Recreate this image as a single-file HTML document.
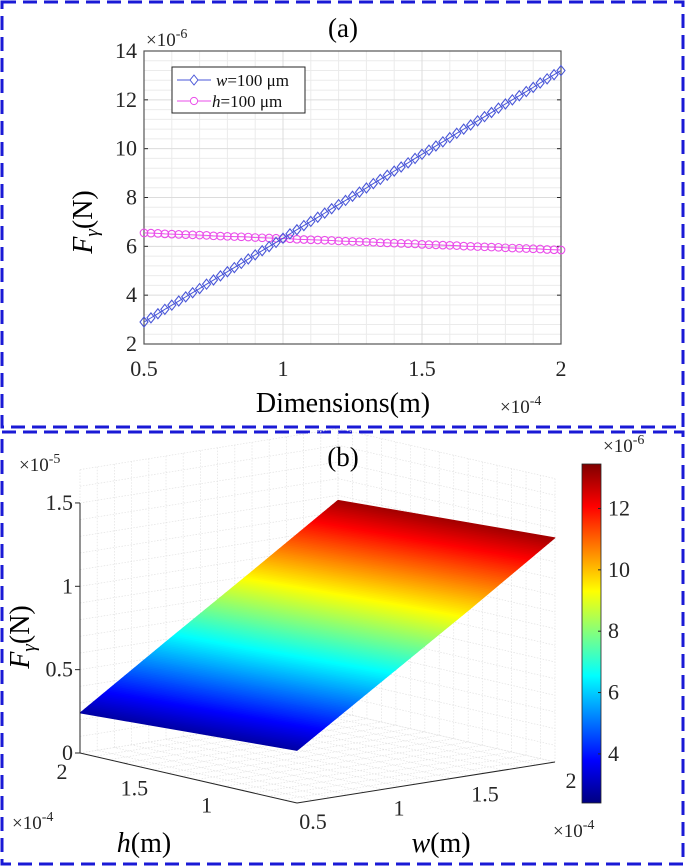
<!DOCTYPE html>
<html><head><meta charset="utf-8"><style>
html,body{margin:0;padding:0;background:#fff;}
svg{display:block;}
svg text{font-family:"Liberation Serif","Times New Roman",serif;}
</style></head><body>
<svg id="fig" width="685" height="866" viewBox="0 0 685 866" xmlns="http://www.w3.org/2000/svg" font-family="Liberation Serif, serif">
<rect x="2" y="2" width="681" height="425" fill="none" stroke="#1a1ad6" stroke-width="3" stroke-dasharray="14,7"/>
<rect x="2" y="432" width="681" height="432" fill="none" stroke="#1a1ad6" stroke-width="3" stroke-dasharray="14,7"/>
<g id="pa"></g>
<g id="pb"></g>
</svg>
<script>
// ===== Panel (a) data =====
const xTicksA = [0.5, 1, 1.5, 2];
const xTickLabelsA = ["0.5", "1", "1.5", "2"];
const yTicksA = [2, 4, 6, 8, 10, 12, 14];
const yTickLabelsA = ["2", "4", "6", "8", "10", "12", "14"];
const seriesW = [2.90,3.07,3.24,3.42,3.59,3.76,3.93,4.10,4.27,4.45,4.62,4.79,4.96,5.13,5.30,5.48,5.65,5.82,5.99,6.16,6.33,6.51,6.68,6.85,7.02,7.19,7.36,7.54,7.71,7.88,8.05,8.22,8.39,8.57,8.74,8.91,9.08,9.25,9.42,9.60,9.77,9.94,10.11,10.28,10.45,10.63,10.80,10.97,11.14,11.31,11.48,11.66,11.83,12.00,12.17,12.34,12.51,12.69,12.86,13.03,13.20];
const seriesH = [6.55,6.54,6.53,6.51,6.50,6.49,6.48,6.47,6.46,6.45,6.43,6.42,6.41,6.40,6.39,6.38,6.36,6.35,6.34,6.33,6.32,6.31,6.29,6.28,6.27,6.26,6.25,6.24,6.22,6.21,6.20,6.19,6.18,6.17,6.15,6.14,6.13,6.12,6.11,6.10,6.08,6.07,6.06,6.05,6.04,6.03,6.01,6.00,5.99,5.98,5.97,5.96,5.94,5.93,5.92,5.91,5.90,5.89,5.87,5.86,5.85];
const xMinA = 0.5, xMaxA = 2;

// ===== Panel (b) data =====
const wVals = [0.5, 1, 1.5, 2];
const hVals = [0.5, 1, 1.5, 2];
const zRowH05 = [3.15, 6.55, 9.95, 13.45];
const zRowH10 = [2.90, 6.30, 9.75, 13.20];
const zRowH15 = [2.65, 6.05, 9.50, 12.95];
const zRowH20 = [2.40, 5.85, 9.25, 12.70];
const zTicksB = [0, 0.5, 1, 1.5];
const zTickLabelsB = ["0", "0.5", "1", "1.5"];
const hTicksB = [1, 1.5, 2];
const hTickLabelsB = ["1", "1.5", "2"];
const wTicksB = [0.5, 1, 1.5, 2];
const wTickLabelsB = ["0.5", "1", "1.5", "2"];
const cbTicks = [4, 6, 8, 10, 12];
const cbTickLabels = ["4", "6", "8", "10", "12"];

const NS = "http://www.w3.org/2000/svg";
const FF = "Liberation Serif, serif";
function mk(parent, tag, attrs, txt){
  const e = document.createElementNS(NS, tag);
  for (const k in attrs) e.setAttribute(k, attrs[k]);
  if (tag === "text") e.setAttribute("font-family", FF);
  if (txt !== undefined) e.textContent = txt;
  parent.appendChild(e);
  return e;
}
const pa = document.getElementById("pa");
const pb = document.getElementById("pb");

const AL = 144, AR = 561, AT = 51, AB = 344;
const sx = v => AL + (v - xMinA) / (xMaxA - xMinA) * (AR - AL);
const sy = v => AB - (v - 2) / 12 * (AB - AT);

let e;
e = mk(pa, "rect", {x:AL, y:AT, width:AR-AL, height:AB-AT, fill:"#fff"});


for (let v = 0.6; v < 2; v += 0.1) {
  if (Math.abs(v*2 - Math.round(v*2)) < 1e-6) continue;
  e = mk(pa, "line", {x1:sx(v), x2:sx(v), y1:AT, y2:AB, stroke:"#ebebeb", "stroke-width":1});
  
  
}
for (let v = 2.4; v < 14; v += 0.4) {
  if (Math.abs(v/2 - Math.round(v/2)) < 1e-6) continue;
  e = mk(pa, "line", {x1:AL, x2:AR, y1:sy(v), y2:sy(v), stroke:"#ebebeb", "stroke-width":1});
  
  
}
xTicksA.forEach((v, i) => {
  e = mk(pa, "line", {x1:sx(v), x2:sx(v), y1:AT, y2:AB, stroke:"#dcdcdc", "stroke-width":1});
  
  
  e = mk(pa, "text", {x:sx(v), y:376, "font-size":22, fill:"#262626", "text-anchor":"middle"}, xTickLabelsA[i]);
  
  
});
yTicksA.forEach((v, i) => {
  e = mk(pa, "line", {x1:AL, x2:AR, y1:sy(v), y2:sy(v), stroke:"#dcdcdc", "stroke-width":1});
  
  
  e = mk(pa, "line", {x1:AL, x2:AL+4, y1:sy(v), y2:sy(v), stroke:"#262626", "stroke-width":1});
  
  
  e = mk(pa, "line", {x1:AR-4, x2:AR, y1:sy(v), y2:sy(v), stroke:"#262626", "stroke-width":1});
  
  
  e = mk(pa, "text", {x:137, y:sy(v)+7, "font-size":22, fill:"#262626", "text-anchor":"end"}, yTickLabelsA[i]);
  
  
});
e = mk(pa, "rect", {x:AL, y:AT, width:AR-AL, height:AB-AT, fill:"none", stroke:"#555", "stroke-width":1.2});



function seriesX(i, n){ return xMinA + i * (xMaxA - xMinA) / (n - 1); }
let d = seriesH.map((v, i) => (i ? "L" : "M") + sx(seriesX(i, seriesH.length)).toFixed(2) + "," + sy(v).toFixed(2)).join("");
e = mk(pa, "path", {d:d, fill:"none", stroke:"#ea4dea", "stroke-width":1});


seriesH.forEach((v, i) => {
  e = mk(pa, "circle", {cx:sx(seriesX(i, seriesH.length)), cy:sy(v), r:3.8, fill:"none", stroke:"#ea4dea", "stroke-width":1.1});
  
  
});
d = seriesW.map((v, i) => (i ? "L" : "M") + sx(seriesX(i, seriesW.length)).toFixed(2) + "," + sy(v).toFixed(2)).join("");
e = mk(pa, "path", {d:d, fill:"none", stroke:"#4a57d8", "stroke-width":1});


seriesW.forEach((v, i) => {
  const cx = sx(seriesX(i, seriesW.length)), cy = sy(v);
  e = mk(pa, "path", {d:`M${cx},${cy-5}L${cx+4},${cy}L${cx},${cy+5}L${cx-4},${cy}Z`, fill:"none", stroke:"#4a57d8", "stroke-width":1.1});
  
  
});

const lg = mk(pa, "g", {});


mk(lg, "rect", {x:172, y:67, width:133, height:46, fill:"#fff", stroke:"#262626", "stroke-width":1});
e = mk(lg, "g", {});


mk(e, "line", {x1:177, x2:211, y1:80, y2:80, stroke:"#4a57d8", "stroke-width":1});
mk(e, "path", {d:"M194,75L198,80L194,85L190,80Z", fill:"#fff", stroke:"#4a57d8", "stroke-width":1});
const t1 = mk(e, "text", {x:216, y:86, "font-size":17, fill:"#111"});
mk(t1, "tspan", {"font-style":"italic"}, "w");
mk(t1, "tspan", {}, "=100 μm");
e = mk(lg, "g", {});


mk(e, "line", {x1:177, x2:211, y1:101, y2:101, stroke:"#ea4dea", "stroke-width":1});
mk(e, "circle", {cx:194, cy:101, r:3.6, fill:"#fff", stroke:"#ea4dea", "stroke-width":1});
const t2 = mk(e, "text", {x:212, y:107, "font-size":17, fill:"#111"});
mk(t2, "tspan", {"font-style":"italic"}, "h");
mk(t2, "tspan", {}, "=100 μm");

e = mk(pa, "text", {x:343, y:37, "font-size":27, fill:"#000", "text-anchor":"middle"}, "(a)");


e = mk(pa, "text", {x:146, y:46, "font-size":19, fill:"#262626"});
e.innerHTML = '×10<tspan dy="-8" font-size="14">-6</tspan>';


e = mk(pa, "text", {x:343, y:412, "font-size":28, fill:"#000", "text-anchor":"middle"}, "Dimensions(m)");


e = mk(pa, "text", {x:500, y:413, "font-size":19, fill:"#262626"});
e.innerHTML = '×10<tspan dy="-8" font-size="14">-4</tspan>';


e = mk(pa, "text", {x:0, y:0, "font-size":28, fill:"#000", "text-anchor":"middle", transform:"translate(92,222) rotate(-90)"});
e.innerHTML = '<tspan font-style="italic">F</tspan><tspan font-style="italic" font-size="19" dy="6">γ</tspan><tspan dy="-6">(N)</tspan>';



// ---- Panel B 3D ----
const F0 = [297, 803], WV = [555-297, 762-803], HV = [80-297, 753-803], ZS = 16.67;
function P(w, h, z){
  const a = (w - 0.5) / 1.5, b = (h - 0.5) / 1.5;
  return [F0[0] + a*WV[0] + b*HV[0], F0[1] + a*WV[1] + b*HV[1] - z*ZS];
}
const zTop = 17;
const gridG = mk(pb, "g", {stroke:"#e2e2e2", "stroke-width":0.7, "stroke-dasharray":"1.5,1.5", fill:"none"});


function ln(g, p, q){ mk(g, "line", {x1:p[0], y1:p[1], x2:q[0], y2:q[1]}); }
for (let z = 0; z <= zTop + 1e-6; z += 1) {
  ln(gridG, P(0.5, 2, z), P(2, 2, z));
  ln(gridG, P(2, 2, z), P(2, 0.5, z));
}
for (let v = 0.5; v <= 2 + 1e-6; v += 0.1) {
  ln(gridG, P(v, 2, 0), P(v, 2, zTop));
  ln(gridG, P(2, v, 0), P(2, v, zTop));
  ln(gridG, P(v, 0.5, 0), P(v, 2, 0));
  ln(gridG, P(0.5, v, 0), P(2, v, 0));
}

const zGrid = [zRowH05, zRowH10, zRowH15, zRowH20];
const zMin = 2.4, zMax = 13.45;
function jet(t){
  t = Math.max(0, Math.min(1, t));
  const r = Math.max(0, Math.min(1, 1.5 - Math.abs(4*t - 3)));
  const g = Math.max(0, Math.min(1, 1.5 - Math.abs(4*t - 2)));
  const b = Math.max(0, Math.min(1, 1.5 - Math.abs(4*t - 1)));
  return `rgb(${Math.round(r*255)},${Math.round(g*255)},${Math.round(b*255)})`;
}
function zAt(w, h){
  let i = 0; while (i < hVals.length - 2 && h > hVals[i+1]) i++;
  let j = 0; while (j < wVals.length - 2 && w > wVals[j+1]) j++;
  const u = (w - wVals[j]) / (wVals[j+1] - wVals[j]);
  const v = (h - hVals[i]) / (hVals[i+1] - hVals[i]);
  return zGrid[i][j]*(1-u)*(1-v) + zGrid[i][j+1]*u*(1-v) + zGrid[i+1][j]*(1-u)*v + zGrid[i+1][j+1]*u*v;
}
const surf = mk(pb, "g", {});


const NW = 150;
for (let b = 0; b < NW; b++) {
  const w0 = 0.5 + b*1.5/NW, w1 = 0.5 + (b+1)*1.5/NW;
  const pts = [];
  for (let k = 0; k <= 6; k++) { const h = 2 - k*0.25; pts.push(P(w0, h, zAt(w0, h))); }
  for (let k = 6; k >= 0; k--) { const h = 2 - k*0.25; pts.push(P(w1, h, zAt(w1, h))); }
  const zc = zAt((w0+w1)/2, 1.25);
  const c = jet((zc - zMin) / (zMax - zMin));
  e = mk(surf, "polygon", {points: pts.map(p => p[0].toFixed(2)+","+p[1].toFixed(2)).join(" "), fill:c, stroke:c, "stroke-width":0.8, "stroke-linejoin":"round"});
  
  
}

const ax = mk(pb, "g", {stroke:"#262626", "stroke-width":1});


ln(ax, P(0.5, 2, 0), P(0.5, 2, 15));
ln(ax, P(0.5, 2, 0), P(0.5, 0.5, 0));
ln(ax, P(0.5, 0.5, 0), P(2, 0.5, 0));
zTicksB.forEach((v, i) => {
  const p = P(0.5, 2, v*10);
  e = mk(pb, "line", {x1:p[0]-5, x2:p[0], y1:p[1], y2:p[1], stroke:"#262626"});
  
  
  e = mk(pb, "text", {x:p[0]-7, y:p[1]+7, "font-size":22, fill:"#262626", "text-anchor":"end"}, zTickLabelsB[i]);
  
  
});
hTicksB.forEach((v, i) => {
  const p = P(0.5, v, 0);
  e = mk(pb, "text", {x:p[0]-18, y:p[1]+26, "font-size":22, fill:"#262626", "text-anchor":"middle"}, hTickLabelsB[i]);
  
  
});
wTicksB.forEach((v, i) => {
  const p = P(v, 0.5, 0);
  e = mk(pb, "text", {x:p[0]+16, y:p[1]+26, "font-size":22, fill:"#262626", "text-anchor":"middle"}, wTickLabelsB[i]);
  
  
});

const CBX = 582, CBW = 19, CBT = 464, CBB = 803;
const cbY = v => CBB - (v - zMin) / (zMax - zMin) * (CBB - CBT);
const defs = mk(pb, "defs", {});
const lgd = mk(defs, "linearGradient", {id:"jetg", x1:0, y1:1, x2:0, y2:0});
for (let k = 0; k <= 16; k++) mk(lgd, "stop", {offset:(k/16), "stop-color":jet(k/16)});
e = mk(pb, "rect", {x:CBX, y:CBT, width:CBW, height:CBB-CBT, fill:"url(#jetg)", stroke:"#262626", "stroke-width":0.8});


cbTicks.forEach((v, i) => {
  e = mk(pb, "line", {x1:CBX+CBW-3, x2:CBX+CBW, y1:cbY(v), y2:cbY(v), stroke:"#262626"});
  
  
  e = mk(pb, "text", {x:608, y:cbY(v)+7, "font-size":22, fill:"#262626"}, cbTickLabels[i]);
  
  
});
e = mk(pb, "text", {x:603, y:452, "font-size":19, fill:"#262626"});
e.innerHTML = '×10<tspan dy="-8" font-size="14">-6</tspan>';



e = mk(pb, "text", {x:343, y:466, "font-size":27, fill:"#000", "text-anchor":"middle"}, "(b)");


e = mk(pb, "text", {x:19, y:471, "font-size":19, fill:"#262626"});
e.innerHTML = '×10<tspan dy="-8" font-size="14">-5</tspan>';


e = mk(pb, "text", {x:12, y:829, "font-size":19, fill:"#262626"});
e.innerHTML = '×10<tspan dy="-8" font-size="14">-4</tspan>';


e = mk(pb, "text", {x:553, y:837, "font-size":19, fill:"#262626"});
e.innerHTML = '×10<tspan dy="-8" font-size="14">-4</tspan>';


e = mk(pb, "text", {x:144, y:852, "font-size":28, fill:"#000", "text-anchor":"middle"});
e.innerHTML = '<tspan font-style="italic">h</tspan>(m)';


e = mk(pb, "text", {x:441, y:852, "font-size":28, fill:"#000", "text-anchor":"middle"});
e.innerHTML = '<tspan font-style="italic">w</tspan>(m)';


e = mk(pb, "text", {x:0, y:0, "font-size":28, fill:"#000", "text-anchor":"middle", transform:"translate(29,637) rotate(-90)"});
e.innerHTML = '<tspan font-style="italic">F</tspan><tspan font-style="italic" font-size="19" dy="6">γ</tspan><tspan dy="-6">(N)</tspan>';


</script>
</body></html>
